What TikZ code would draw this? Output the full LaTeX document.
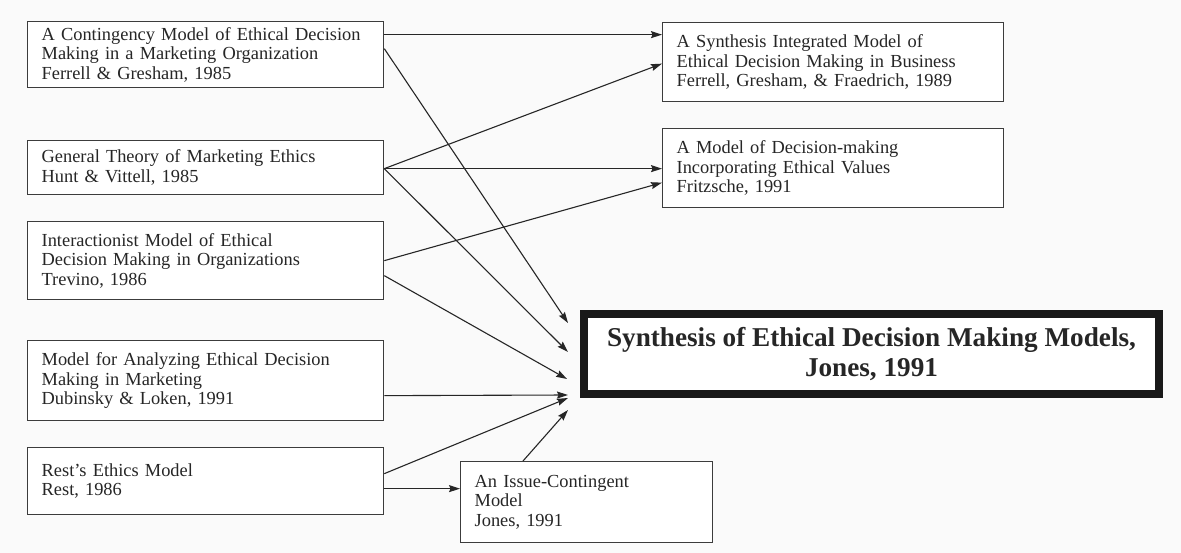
\documentclass[tikz,border=0pt]{standalone}
\usepackage{fontspec}
\setmainfont{Liberation Serif}
\usetikzlibrary{arrows.meta,calc}
\definecolor{ink}{HTML}{262626}
\definecolor{frame}{HTML}{3C3C3C}
\definecolor{paper}{HTML}{FAFAFA}

\begin{document}
\begin{tikzpicture}[x=1pt,y=-1pt,
  model/.style={draw=frame, line width=1.3pt, fill=white, inner xsep=14pt, inner ysep=0pt,
    anchor=north west, align=left, text=ink, font=\fontsize{18.4}{19.7}\selectfont},
  synthesis/.style={draw=black!90, line width=8pt, fill=white, inner sep=0pt,
    anchor=north west, align=center, text=ink,
    font=\fontsize{27.2}{30}\selectfont\bfseries},
  link/.style={draw=ink, line width=1.1pt, -{Stealth[length=11pt,width=7pt,inset=1.5pt]}},
]
\fill[paper] (0,0) rectangle (1181,553);
\useasboundingbox (0,0) rectangle (1181,553);

% source models (left column)
\node[model, text width=328pt, minimum height=66pt] (c1) at (27,21)
  {A Contingency Model of Ethical Decision\\Making in a Marketing Organization\\Ferrell \& Gresham, 1985};
\node[model, text width=328pt, minimum height=54pt] (c2) at (27,140)
  {General Theory of Marketing Ethics\\Hunt \& Vittell, 1985};
\node[model, text width=328pt, minimum height=78pt] (c3) at (27,221)
  {Interactionist Model of Ethical\\Decision Making in Organizations\\Trevino, 1986};
\node[model, text width=328pt, minimum height=80pt] (c4) at (27,340)
  {Model for Analyzing Ethical Decision\\Making in Marketing\\Dubinsky \& Loken, 1991};
\node[model, text width=328pt, minimum height=67pt] (c5) at (27,447)
  {Rest’s Ethics Model\\Rest, 1986};

% derived models
\node[model, text width=224pt, minimum height=81pt] (issue) at (460,461)
  {An Issue-Contingent\\Model\\Jones, 1991};
\node[model, text width=313pt, minimum height=79pt] (s1) at (662,22)
  {A Synthesis Integrated Model of\\Ethical Decision Making in Business\\Ferrell, Gresham, \& Fraedrich, 1989};
\node[model, text width=313pt, minimum height=79pt] (s2) at (662,128)
  {A Model of Decision-making\\Incorporating Ethical Values\\Fritzsche, 1991};

% the overall synthesis
\node[synthesis, minimum width=575pt, minimum height=80pt] (big) at (580,310)
  {Synthesis of Ethical Decision Making Models,\\Jones, 1991};

% links into the two upper-right models
\draw[link] ($(c1.east)+(0,-20)$) -- ($(s1.west)+(0,-27.5)$);
\draw[link] ($(c2.east)+(0,1)$) -- ($(s1.west)+(0,1.5)$);
\draw[link] ($(c2.east)+(0,1)$) -- ($(s2.west)+(0,0.5)$);
\draw[link] (c3.east) -- ($(s2.west)+(0,14.5)$);

% links into the overall synthesis
\draw[link] ($(c1.east)+(0,-6)$) -- ($(big.west)+(-12,-31)$);
\draw[link] ($(c2.east)+(0,1)$) -- ($(big.west)+(-12,-2)$);
\draw[link] ($(c3.east)+(0,15)$) -- ($(big.west)+(-13,25)$);
\draw[link] ($(c4.east)+(0,15)$) -- ($(big.west)+(-12,41)$);
\draw[link] ($(c5.east)+(0,-7.5)$) -- ($(big.west)+(-12,44)$);
\draw[link] ($(issue.north west)+(63,0)$) -- ($(big.west)+(-12,56)$);

% Rest's model feeds the issue-contingent model
\draw[link] ($(c5.east)+(0,7.5)$) -- ($(issue.west)+(0,-13.5)$);
\end{tikzpicture}
\end{document}
